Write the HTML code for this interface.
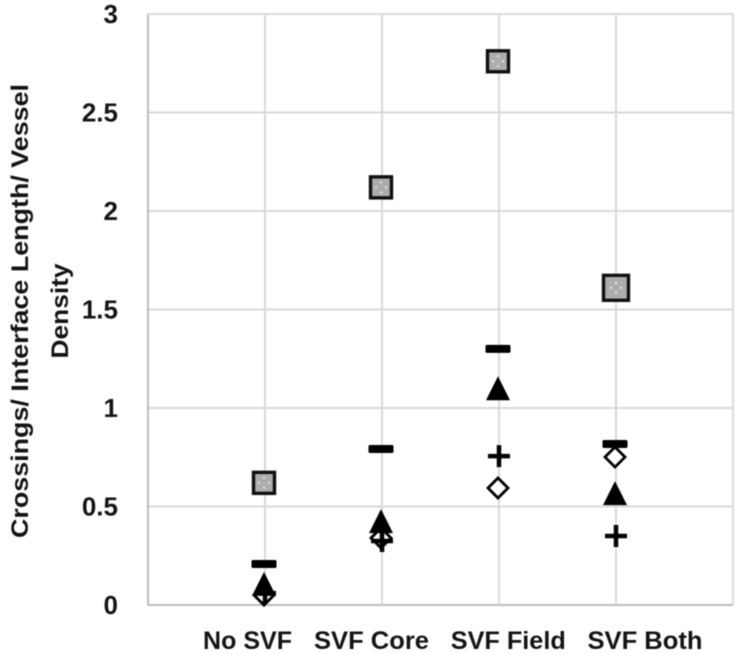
<!DOCTYPE html>
<html>
<head>
<meta charset="utf-8">
<style>
html,body{margin:0;padding:0;background:#fff;width:737px;height:654px;overflow:hidden}
svg{display:block;filter:blur(.55px)}
text{font-family:"Liberation Sans",sans-serif;font-weight:bold;fill:#141414}
</style>
</head>
<body>
<svg id="chart" width="737" height="654" viewBox="0 0 737 654" xmlns="http://www.w3.org/2000/svg">
  <rect width="737" height="654" fill="#fff"/>
  <g id="grid"></g>
  <g id="yticks"></g>
  <g id="xticks"></g>
  <g id="marks"></g>
  <text transform="translate(28,311) rotate(-90)" text-anchor="middle" font-size="24" textLength="454" lengthAdjust="spacingAndGlyphs">Crossings/ Interface Length/ Vessel</text>
  <text transform="translate(68,311) rotate(-90)" text-anchor="middle" font-size="24" textLength="95" lengthAdjust="spacingAndGlyphs">Density</text>
</svg>
<script>
const categories = ['No SVF', 'SVF Core', 'SVF Field', 'SVF Both'];
const yTicks = [0, 0.5, 1, 1.5, 2, 2.5, 3];
const squareValues = [0.62, 2.12, 2.76, 1.61];
const dashValues = [0.208, 0.792, 1.3, 0.817];
const triangleValues = [0.107, 0.426, 1.1, 0.568];
const plusValues = [0.06, 0.325, 0.756, 0.35];
const diamondValues = [0.05, 0.34, 0.594, 0.751];

const NS = 'http://www.w3.org/2000/svg';
const plotLeft = 148, plotRight = 733, plotTop = 14, plotBottom = 605;
const xScale = i => plotLeft + 117 * (i + 1);
const markerX = i => xScale(i) - 1;
const yScale = v => plotBottom - (v / 3) * (plotBottom - plotTop);

function make(tag, attrs, parent) {
  const el = document.createElementNS(NS, tag);
  for (const k in attrs) el.setAttribute(k, attrs[k]);
  parent.appendChild(el);
  return el;
}
const grid = document.getElementById('grid');
const yticks = document.getElementById('yticks');
const xticks = document.getElementById('xticks');
const marks = document.getElementById('marks');

yTicks.forEach(t => {
  const y = yScale(t);
  const line = make('line', {x1: plotLeft, x2: plotRight, y1: y, y2: y, stroke: t === 0 ? '#bdbdbd' : '#d9d9d9', 'stroke-width': 2}, grid);
  
  
  const label = make('text', {x: 118, y: y + 9, 'text-anchor': 'end', 'font-size': 26}, yticks);
  label.textContent = String(t);
  
  
});

categories.forEach((c, i) => {
  const x = xScale(i);
  const line = make('line', {x1: x, x2: x, y1: plotTop, y2: plotBottom, stroke: '#d9d9d9', 'stroke-width': 2}, grid);
  
  
  const labelX = i === 0 ? 247.5 : 371.5 + 136.75 * (i - 1);
  const labelWidth = i === 0 ? 89 : 115;
  const label = make('text', {x: labelX, y: 649, 'text-anchor': 'middle', 'font-size': 25, textLength: labelWidth, lengthAdjust: 'spacingAndGlyphs'}, xticks);
  label.textContent = c;
  
  
});

const axisLeft = make('line', {x1: plotLeft, x2: plotLeft, y1: plotTop, y2: plotBottom, stroke: '#bdbdbd', 'stroke-width': 2}, grid);


const borderRight = make('line', {x1: plotRight, x2: plotRight, y1: plotTop, y2: plotBottom, stroke: '#d9d9d9', 'stroke-width': 2}, grid);


const borderTop = make('line', {x1: plotLeft, x2: plotRight, y1: plotTop, y2: plotTop, stroke: '#d9d9d9', 'stroke-width': 2}, grid);



dashValues.forEach((v, i) => {
  const x = markerX(i), y = yScale(v);
  const m = make('rect', {x: x - 12.5, y: y - 4, width: 25, height: 8, rx: 1.5, fill: '#000'}, marks);
  
  
});
diamondValues.forEach((v, i) => {
  const x = markerX(i), y = yScale(v);
  const m = make('path', {d: `M${x} ${y - 10}L${x + 10} ${y}L${x} ${y + 10}L${x - 10} ${y}Z`, stroke: '#000', 'stroke-width': 2.8, fill: '#fff'}, marks);
  
  
});
plusValues.forEach((v, i) => {
  const x = markerX(i) + 1, y = yScale(v);
  const m = make('path', {d: `M${x - 11} ${y}H${x + 11}M${x} ${y - 11}V${y + 11}`, stroke: '#000', 'stroke-width': 4.5, fill: 'none'}, marks);
  
  
});
triangleValues.forEach((v, i) => {
  const x = markerX(i), y = yScale(v);
  const m = make('path', {d: `M${x} ${y - 12}L${x + 12} ${y + 12}L${x - 12} ${y + 12}Z`, fill: '#000'}, marks);
  
  
});
squareValues.forEach((v, i) => {
  const x = markerX(i) + (i === 3 ? 1 : 0), y = yScale(v);
  const half = i === 3 ? 12.5 : 10.5;
  const m = make('rect', {x: x - half, y: y - half, width: half * 2, height: half * 2, fill: '#adadad', stroke: '#111', 'stroke-width': 3.4}, marks);
  
  
  [[0, -5], [5, 0], [0, 5], [-5, 0]].forEach(d => {
    const dot = make('circle', {cx: x + d[0], cy: y + d[1], r: 0.9, fill: '#fff'}, marks);
    
    
  });
});
</script>
</body>
</html>
